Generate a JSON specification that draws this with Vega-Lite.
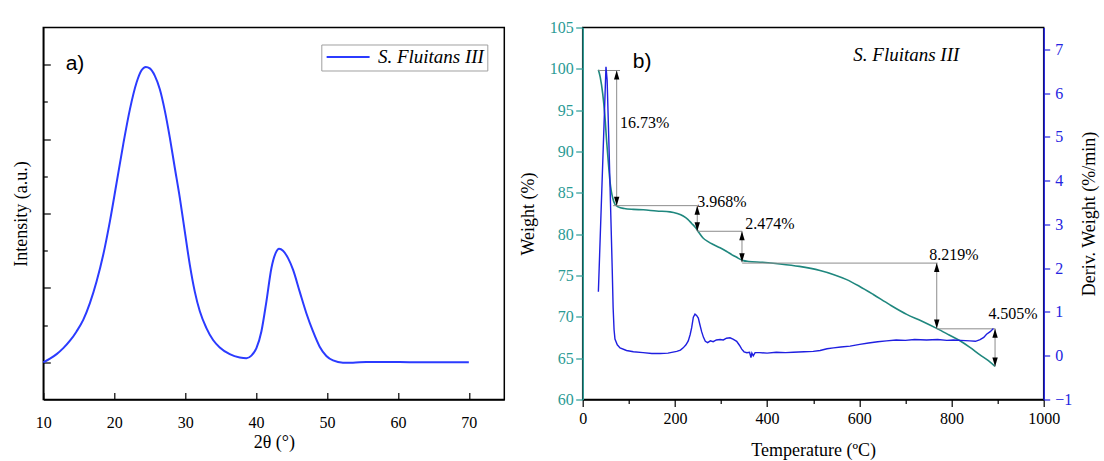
{
  "$schema": "https://vega.github.io/schema/vega-lite/v6.json",
  "background": "white",
  "padding": {"left": 11.3, "top": 18.5, "right": 3, "bottom": 3},
  "config": {
    "view": {"stroke": "black", "strokeWidth": 1.5},
    "axis": {
      "labelFont": "Liberation Serif", "titleFont": "Liberation Serif",
      "labelFontSize": 16, "titleFontSize": 18, "titleFontWeight": "normal",
      "grid": false, "labelColor": "black", "titleColor": "black",
      "domainColor": "black", "tickColor": "black", "domainWidth": 1.5, "tickWidth": 1.2,
      "labelFlush": false, "labelOverlap": false
    }
  },
  "datasets": {
    "xrd": [
      {"theta": 10, "intensity": 0}, {"theta": 10.94, "intensity": 10}, {"theta": 11.88, "intensity": 22},
      {"theta": 12.82, "intensity": 38}, {"theta": 13.76, "intensity": 58}, {"theta": 14.69, "intensity": 83},
      {"theta": 15.63, "intensity": 114}, {"theta": 16.57, "intensity": 159}, {"theta": 17.51, "intensity": 217},
      {"theta": 18.45, "intensity": 289}, {"theta": 19.39, "intensity": 379}, {"theta": 20.33, "intensity": 482},
      {"theta": 21.27, "intensity": 586}, {"theta": 22.21, "intensity": 680}, {"theta": 23.15, "intensity": 752},
      {"theta": 23.85, "intensity": 785}, {"theta": 24.46, "intensity": 794}, {"theta": 25.02, "intensity": 790},
      {"theta": 25.73, "intensity": 770}, {"theta": 26.43, "intensity": 734}, {"theta": 27.14, "intensity": 676},
      {"theta": 27.84, "intensity": 604}, {"theta": 28.54, "intensity": 523}, {"theta": 29.25, "intensity": 442},
      {"theta": 29.95, "intensity": 352}, {"theta": 30.66, "intensity": 262}, {"theta": 31.36, "intensity": 190},
      {"theta": 32.07, "intensity": 137}, {"theta": 33.0, "intensity": 92}, {"theta": 33.94, "intensity": 60},
      {"theta": 34.88, "intensity": 40}, {"theta": 36.29, "intensity": 22}, {"theta": 37.7, "intensity": 13},
      {"theta": 38.64, "intensity": 11}, {"theta": 39.34, "intensity": 18}, {"theta": 40.05, "intensity": 38},
      {"theta": 40.75, "intensity": 83}, {"theta": 41.46, "intensity": 164}, {"theta": 42.16, "intensity": 253},
      {"theta": 42.77, "intensity": 294}, {"theta": 43.24, "intensity": 305}, {"theta": 43.8, "intensity": 300},
      {"theta": 44.51, "intensity": 280}, {"theta": 45.21, "intensity": 249}, {"theta": 46.15, "intensity": 190},
      {"theta": 47.09, "intensity": 132}, {"theta": 48.03, "intensity": 83}, {"theta": 48.97, "intensity": 42},
      {"theta": 49.91, "intensity": 17}, {"theta": 50.85, "intensity": 5}, {"theta": 52.25, "intensity": -1},
      {"theta": 53.66, "intensity": -1}, {"theta": 55.54, "intensity": 1}, {"theta": 57.89, "intensity": 1},
      {"theta": 62.58, "intensity": 0}, {"theta": 70, "intensity": 0}
    ],
    "tga": [
      {"t": 34, "w": 99.9}, {"t": 38, "w": 99.0}, {"t": 43.4, "w": 97.0}, {"t": 48, "w": 94.4},
      {"t": 52, "w": 91.2}, {"t": 56, "w": 88.4}, {"t": 59.2, "w": 86.4}, {"t": 62, "w": 85.2},
      {"t": 65, "w": 84.4}, {"t": 70, "w": 83.6}, {"t": 77, "w": 83.3}, {"t": 90, "w": 83.1},
      {"t": 110, "w": 83.0}, {"t": 131.5, "w": 82.95}, {"t": 160, "w": 82.8}, {"t": 189.4, "w": 82.7},
      {"t": 205, "w": 82.5}, {"t": 218, "w": 82.2}, {"t": 228, "w": 81.8}, {"t": 236.4, "w": 81.3},
      {"t": 243, "w": 80.9}, {"t": 247.3, "w": 80.6}, {"t": 252, "w": 80.2}, {"t": 261.6, "w": 79.5},
      {"t": 272, "w": 79.1}, {"t": 283.3, "w": 78.75}, {"t": 298, "w": 78.35}, {"t": 312.4, "w": 77.9},
      {"t": 324, "w": 77.5}, {"t": 334, "w": 77.2}, {"t": 342, "w": 76.95}, {"t": 348.4, "w": 76.8},
      {"t": 360, "w": 76.7}, {"t": 390, "w": 76.6}, {"t": 428, "w": 76.4}, {"t": 470, "w": 76.1},
      {"t": 514.8, "w": 75.6}, {"t": 545, "w": 75.1}, {"t": 572.7, "w": 74.5}, {"t": 600, "w": 73.7},
      {"t": 630.4, "w": 72.7}, {"t": 665, "w": 71.5}, {"t": 702.8, "w": 70.3}, {"t": 735, "w": 69.5},
      {"t": 767.9, "w": 68.6}, {"t": 795, "w": 67.8}, {"t": 818.4, "w": 67.1}, {"t": 840, "w": 66.3},
      {"t": 861.8, "w": 65.4}, {"t": 880, "w": 64.7}, {"t": 894.4, "w": 64.0}
    ],
    "dtg": [
      {"t": 34, "d": 1.46}, {"t": 50.5, "d": 6.6}, {"t": 53, "d": 6.3}, {"t": 57, "d": 4.8},
      {"t": 61, "d": 3.2}, {"t": 64, "d": 2.0}, {"t": 66, "d": 1.1}, {"t": 68, "d": 0.6},
      {"t": 70, "d": 0.38}, {"t": 75, "d": 0.25}, {"t": 81, "d": 0.18}, {"t": 95, "d": 0.12},
      {"t": 110, "d": 0.09}, {"t": 131, "d": 0.07}, {"t": 150, "d": 0.05}, {"t": 168, "d": 0.05},
      {"t": 185, "d": 0.06}, {"t": 204, "d": 0.1}, {"t": 212, "d": 0.13}, {"t": 218, "d": 0.18},
      {"t": 224, "d": 0.25}, {"t": 229, "d": 0.34}, {"t": 233, "d": 0.48}, {"t": 236.4, "d": 0.64},
      {"t": 240, "d": 0.88}, {"t": 243.6, "d": 0.95}, {"t": 247, "d": 0.92}, {"t": 250.8, "d": 0.86},
      {"t": 254, "d": 0.72}, {"t": 258, "d": 0.55}, {"t": 262, "d": 0.42}, {"t": 266, "d": 0.33},
      {"t": 271, "d": 0.3}, {"t": 277, "d": 0.34}, {"t": 283, "d": 0.32}, {"t": 290, "d": 0.36},
      {"t": 298, "d": 0.37}, {"t": 305, "d": 0.36}, {"t": 312, "d": 0.4}, {"t": 319.5, "d": 0.41},
      {"t": 326, "d": 0.38}, {"t": 334, "d": 0.33}, {"t": 340, "d": 0.24}, {"t": 345, "d": 0.15},
      {"t": 350, "d": 0.09}, {"t": 356, "d": 0.07}, {"t": 362, "d": 0.08}, {"t": 365, "d": -0.04},
      {"t": 367, "d": 0.06}, {"t": 370, "d": 0.0}, {"t": 374, "d": 0.07}, {"t": 384, "d": 0.07},
      {"t": 400, "d": 0.06}, {"t": 420, "d": 0.08}, {"t": 440, "d": 0.07}, {"t": 457, "d": 0.08},
      {"t": 480, "d": 0.09}, {"t": 500, "d": 0.1}, {"t": 515, "d": 0.12}, {"t": 530, "d": 0.16},
      {"t": 544, "d": 0.18}, {"t": 560, "d": 0.2}, {"t": 580, "d": 0.22}, {"t": 601, "d": 0.26},
      {"t": 620, "d": 0.29}, {"t": 640, "d": 0.32}, {"t": 659, "d": 0.34}, {"t": 680, "d": 0.36},
      {"t": 700, "d": 0.35}, {"t": 720, "d": 0.37}, {"t": 746, "d": 0.36}, {"t": 770, "d": 0.37},
      {"t": 790, "d": 0.35}, {"t": 804, "d": 0.36}, {"t": 820, "d": 0.35}, {"t": 840, "d": 0.34},
      {"t": 852, "d": 0.33}, {"t": 862, "d": 0.37}, {"t": 870, "d": 0.42}, {"t": 876, "d": 0.49},
      {"t": 884, "d": 0.55}, {"t": 891, "d": 0.62}
    ],
    "hlines": [
      {"t": 34, "t2": 81, "w": 99.8},
      {"t": 66, "t2": 249, "w": 83.45},
      {"t": 249, "t2": 346, "w": 80.35},
      {"t": 346, "t2": 770, "w": 76.5},
      {"t": 768, "t2": 895, "w": 68.55}
    ],
    "vlines": [
      {"t": 73.7, "w": 99.8, "w2": 83.45},
      {"t": 248.5, "w": 83.45, "w2": 80.35},
      {"t": 345.5, "w": 80.35, "w2": 76.6},
      {"t": 768, "w": 76.5, "w2": 68.6},
      {"t": 894.5, "w": 68.55, "w2": 64.0}
    ],
    "heads": [
      {"t": 73.7, "w": 99.8, "dir": "up"}, {"t": 73.7, "w": 83.45, "dir": "down"},
      {"t": 248.5, "w": 83.45, "dir": "up"}, {"t": 248.5, "w": 80.35, "dir": "down"},
      {"t": 345.5, "w": 80.35, "dir": "up"}, {"t": 345.5, "w": 76.6, "dir": "down"},
      {"t": 768, "w": 76.5, "dir": "up"}, {"t": 768, "w": 68.6, "dir": "down"},
      {"t": 894.5, "w": 68.55, "dir": "up"}, {"t": 894.5, "w": 64.0, "dir": "down"}
    ],
    "pct": [
      {"t": 81, "w": 93.5, "label": "16.73%"},
      {"t": 248.5, "w": 83.9, "label": "3.968%"},
      {"t": 352.5, "w": 81.2, "label": "2.474%"},
      {"t": 752, "w": 77.5, "label": "8.219%"},
      {"t": 880, "w": 70.4, "label": "4.505%"}
    ]
  },
  "hconcat": [
    {
      "width": 461, "height": 372,
      "layer": [
        {
          "data": {"name": "xrd"},
          "mark": {"type": "line", "interpolate": "monotone", "strokeWidth": 2},
          "encoding": {
            "x": {"field": "theta", "type": "quantitative", "title": "2θ (°)",
              "scale": {"domain": [10, 75], "nice": false, "zero": false},
              "axis": {"values": [10, 15, 20, 25, 30, 35, 40, 45, 50, 55, 60, 65, 70],
                "labelExpr": "datum.value % 10 === 0 ? datum.label : ''",
                "tickSize": {"condition": {"test": "datum.value % 10 === 0", "value": -7}, "value": -4},
                "labelPadding": 22, "titlePadding": 3}},
            "y": {"field": "intensity", "type": "quantitative", "title": "Intensity (a.u.)",
              "scale": {"domain": [-100, 900], "nice": false, "zero": false},
              "axis": {"values": [0, 100, 200, 300, 400, 500, 600, 700, 800], "labels": false,
                "tickSize": {"condition": {"test": "datum.value % 200 === 0", "value": -7}, "value": -4},
                "titlePadding": 12}},
            "color": {"datum": "S. Fluitans III", "type": "nominal",
              "scale": {"range": ["#2b3bff"]},
              "legend": {"title": null, "orient": "top-right", "offset": 17,
                "labelFont": "Liberation Serif", "labelFontStyle": "italic", "labelFontSize": 19,
                "labelColor": "black", "symbolType": "M-1,0L5,0", "symbolSize": 205, "symbolStrokeWidth": 2,
                "strokeColor": "#a0a0a0", "fillColor": "white", "padding": 3, "labelOffset": 34.6}}
          }
        },
        {
          "data": {"values": [{"theta": 13.15, "intensity": 785, "label": "a)"}]},
          "mark": {"type": "text", "font": "Liberation Sans", "fontSize": 21, "align": "left", "baseline": "alphabetic", "color": "black"},
          "encoding": {
            "x": {"field": "theta", "type": "quantitative", "title": "2θ (°)"},
            "y": {"field": "intensity", "type": "quantitative", "title": "Intensity (a.u.)"},
            "text": {"field": "label"}
          }
        }
      ]
    },
    {
      "width": 461, "height": 372,
      "resolve": {"scale": {"y": "independent"}},
      "layer": [
        {
          "layer": [
            {
              "data": {"name": "tga"},
              "mark": {"type": "line", "interpolate": "monotone", "strokeWidth": 1.6, "color": "#1f877e"},
              "encoding": {
                "x": {"field": "t", "type": "quantitative", "title": "Temperature (ºC)",
                  "scale": {"domain": [0, 1000], "nice": false},
                  "axis": {"values": [0, 100, 200, 300, 400, 500, 600, 700, 800, 900, 1000], "format": "d",
                    "labelExpr": "datum.value % 200 === 0 ? datum.label : ''",
                    "tickSize": {"condition": {"test": "datum.value % 200 === 0", "value": 7}, "value": 4},
                    "labelPadding": 4.5, "titlePadding": 15}},
                "y": {"field": "w", "type": "quantitative", "title": "Weight (%)",
                  "scale": {"domain": [60, 105], "nice": false, "zero": false},
                  "axis": {"values": [60, 62.5, 65, 67.5, 70, 72.5, 75, 77.5, 80, 82.5, 85, 87.5, 90, 92.5, 95, 97.5, 100, 102.5, 105],
                    "labelExpr": "datum.value % 5 === 0 ? datum.label : ''",
                    "tickSize": {"condition": {"test": "datum.value % 5 === 0", "value": 7}, "value": 4},
                    "labelPadding": 2.5, "titlePadding": 12,
                    "domainColor": "#2a9a94", "tickColor": "#2a9a94", "labelColor": "#2a9a94"}}
              }
            },
            {
              "data": {"name": "hlines"},
              "mark": {"type": "rule", "color": "#8c8c8c", "strokeWidth": 1},
              "encoding": {
                "x": {"field": "t", "type": "quantitative", "title": "Temperature (ºC)"},
                "x2": {"field": "t2"},
                "y": {"field": "w", "type": "quantitative", "title": "Weight (%)"}
              }
            },
            {
              "data": {"name": "vlines"},
              "mark": {"type": "rule", "color": "#8c8c8c", "strokeWidth": 1},
              "encoding": {
                "x": {"field": "t", "type": "quantitative", "title": "Temperature (ºC)"},
                "y": {"field": "w", "type": "quantitative", "title": "Weight (%)"},
                "y2": {"field": "w2"}
              }
            },
            {
              "data": {"name": "heads"},
              "mark": {"type": "point", "filled": true, "color": "black", "size": 81, "opacity": 1, "strokeWidth": 0},
              "encoding": {
                "x": {"field": "t", "type": "quantitative", "title": "Temperature (ºC)"},
                "y": {"field": "w", "type": "quantitative", "title": "Weight (%)"},
                "shape": {"field": "dir", "type": "nominal", "legend": null,
                  "scale": {"domain": ["up", "down"], "range": ["M0,0L-0.6,2L0.6,2Z", "M0,0L-0.6,-2L0.6,-2Z"]}}
              }
            },
            {
              "data": {"name": "pct"},
              "mark": {"type": "text", "font": "Liberation Serif", "fontSize": 16, "align": "left", "baseline": "middle", "color": "black"},
              "encoding": {
                "x": {"field": "t", "type": "quantitative", "title": "Temperature (ºC)"},
                "y": {"field": "w", "type": "quantitative", "title": "Weight (%)"},
                "text": {"field": "label"}
              }
            },
            {
              "data": {"values": [{"t": 702, "w": 101.7, "label": "S. Fluitans III"}]},
              "mark": {"type": "text", "font": "Liberation Serif", "fontStyle": "italic", "fontSize": 19, "align": "center", "baseline": "middle", "color": "black"},
              "encoding": {
                "x": {"field": "t", "type": "quantitative", "title": "Temperature (ºC)"},
                "y": {"field": "w", "type": "quantitative", "title": "Weight (%)"},
                "text": {"field": "label"}
              }
            },
            {
              "data": {"values": [{"t": 108.5, "w": 100.14, "label": "b)"}]},
              "mark": {"type": "text", "font": "Liberation Sans", "fontSize": 21, "align": "left", "baseline": "alphabetic", "color": "black"},
              "encoding": {
                "x": {"field": "t", "type": "quantitative", "title": "Temperature (ºC)"},
                "y": {"field": "w", "type": "quantitative", "title": "Weight (%)"},
                "text": {"field": "label"}
              }
            }
          ]
        },
        {
          "data": {"name": "dtg"},
          "mark": {"type": "line", "strokeWidth": 1.4, "color": "#1f1fe0"},
          "encoding": {
            "x": {"field": "t", "type": "quantitative", "title": "Temperature (ºC)"},
            "y": {"field": "d", "type": "quantitative", "title": "Deriv. Weight (%/min)",
              "scale": {"domain": [-1, 7.5], "nice": false, "zero": false},
              "axis": {"orient": "right", "values": [-1, -0.5, 0, 0.5, 1, 1.5, 2, 2.5, 3, 3.5, 4, 4.5, 5, 5.5, 6, 6.5, 7], "format": "d",
                "labelExpr": "datum.value % 1 === 0 ? datum.label : ''",
                "tickSize": {"condition": {"test": "datum.value % 1 === 0", "value": 6}, "value": 3.5},
                "labelPadding": 5, "titlePadding": 9, "titleAngle": 270, "titleBaseline": "top",
                "domainColor": "#2424e0", "tickColor": "#2424e0", "labelColor": "#2424e0"}}
          }
        }
      ]
    }
  ],
  "spacing": 78.4,
  "bounds": "flush",
  "resolve": {"scale": {"color": "independent", "shape": "independent"}, "legend": {"color": "independent", "shape": "independent"}}
}
